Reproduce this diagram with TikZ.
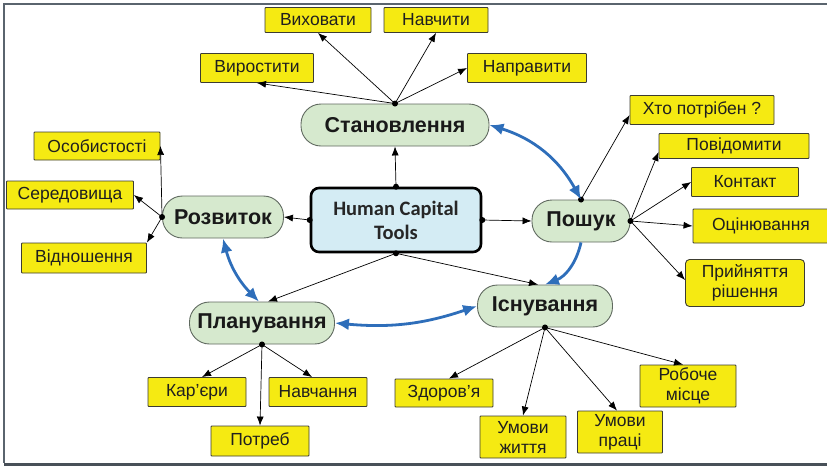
\documentclass[tikz,border=0pt]{standalone}
\usepackage{fontspec}
\setmainfont{Liberation Sans}
\newfontfamily\hctfont{Carlito}
\usetikzlibrary{arrows.meta}
\definecolor{yelfill}{RGB}{245,234,18}
\definecolor{yelbord}{RGB}{60,60,50}
\definecolor{grnfill}{RGB}{214,233,206}
\definecolor{grnbord}{RGB}{95,105,95}
\definecolor{hctfill}{RGB}{212,236,244}
\definecolor{bluarr}{RGB}{46,110,186}
\definecolor{framec}{RGB}{90,100,110}
\begin{document}
\begin{tikzpicture}[x=1pt,y=-1pt,
  yel/.style={draw=yelbord, fill=yelfill, line width=0.9pt, inner sep=0pt, rounded corners=0.8pt,
    font=\fontsize{17.5}{20}\selectfont, text=black!88, align=center},
  grn/.style={draw=grnbord, fill=grnfill, line width=0.9pt, inner sep=0pt, rounded corners=20pt,
    minimum height=42pt, font=\fontsize{21.5}{24}\selectfont\bfseries, text=black!90},
  conn/.style={-{Latex[length=9pt,width=7pt]}, line width=0.7pt, black},
  blu/.style={draw=bluarr, line width=2.8pt, {Latex[length=14pt,width=12pt]}-{Latex[length=14pt,width=12pt]}},
  blus/.style={draw=bluarr, line width=2.8pt, -{Latex[length=14pt,width=12pt]}}
]
\useasboundingbox (0,0) rectangle (827,467);
% frame
\draw[framec, line width=1.8pt] (830,4) -- (4,4) -- (4,463);
\draw[framec!80!black, line width=3pt] (4,464) -- (830,464);

% central
\node[draw=black, fill=hctfill, line width=2.6pt, rounded corners=8pt, minimum width=170pt, minimum height=64pt,
  inner sep=0pt, align=center, font=\hctfont\bfseries\fontsize{20.5}{24}\selectfont, text=black!85] (hct) at (396,220)
  {Human Capital\\Tools};

% green nodes
\node[grn, minimum width=188pt] (st) at (395,125) {Становлення};
\node[grn, minimum width=121pt] (rz) at (223,217) {Розвиток};
\node[grn, minimum width=98pt] (ps) at (581,221) {Пошук};
\node[grn, minimum width=145pt] (pl) at (262,323) {Планування};
\node[grn, minimum width=135pt] (is) at (545,306) {Існування};

% yellow boxes
\node[yel, minimum width=106pt, minimum height=25pt] (vyh) at (318,20) {Виховати};
\node[yel, minimum width=104pt, minimum height=25pt] (nav) at (436,20) {Навчити};
\node[yel, minimum width=113pt, minimum height=29pt] (vyr) at (257,68) {Виростити};
\node[yel, minimum width=119pt, minimum height=29pt] (nap) at (527,68) {Направити};
\node[yel, minimum width=126pt, minimum height=28pt] (os) at (97,146) {Особистості};
\node[yel, minimum width=127pt, minimum height=28pt] (ser) at (70,195) {Середовища};
\node[yel, minimum width=125pt, minimum height=30pt] (vid) at (84,258) {Відношення};
\node[yel, minimum width=144pt, minimum height=29pt] (kh) at (702,110) {Хто потрібен ?};
\node[yel, minimum width=150pt, minimum height=25pt] (pov) at (734,146) {Повідомити};
\node[yel, minimum width=107pt, minimum height=29pt] (kon) at (745,182) {Контакт};
\node[yel, minimum width=136pt, minimum height=34pt] (ots) at (761,226) {Оцінювання};
\node[yel, minimum width=119pt, minimum height=47pt, rounded corners=4pt] (pry) at (745,283) {Прийняття\\рішення};
\node[yel, minimum width=98pt, minimum height=29pt] (kar) at (197,392) {Кар’єри};
\node[yel, minimum width=98pt, minimum height=29pt] (nvch) at (318,392) {Навчання};
\node[yel, minimum width=98pt, minimum height=30pt] (pot) at (260,441) {Потреб};
\node[yel, minimum width=98pt, minimum height=28pt] (zd) at (444,393) {Здоров’я};
\node[yel, minimum width=86pt, minimum height=42pt] (uzh) at (523,437) {Умови\\життя};
\node[yel, minimum width=85pt, minimum height=42pt] (upr) at (620,432) {Умови\\праці};
\node[yel, minimum width=96pt, minimum height=42pt] (rob) at (688,386) {Робоче\\місце};

% black connectors
\draw[conn] (st.north) -- (vyh.south);
\draw[conn] (st.north) -- (nav.south);
\draw[conn] (st.north) -- (vyr.south);
\draw[conn] (st.north) -- (nap.west);
\draw[conn] (hct.north) -- (st.south);
\draw[conn] (hct.west) -- (rz.east);
\draw[conn] (hct.east) -- (ps.west);
\draw[conn] (hct.south) -- ([xshift=6pt]pl.north);
\draw[conn] (hct.south) -- ([xshift=-7pt]is.north);
\draw[conn] (rz.west) -- (os.east);
\draw[conn] (rz.west) -- (ser.east);
\draw[conn] (rz.west) -- (vid.north east);
\draw[conn] (ps.north) -- ([yshift=-5pt]kh.west);
\draw[conn] (ps.east) -- ([yshift=-6pt]pov.west);
\draw[conn] (ps.east) -- (kon.west);
\draw[conn] (ps.east) -- (ots.west);
\draw[conn] (ps.east) -- ([yshift=3pt]pry.west);
\draw[conn] (is.south) -- ([xshift=5pt]zd.north);
\draw[conn] (is.south) -- (uzh.north);
\draw[conn] (is.south) -- ([xshift=-3pt]upr.north);
\draw[conn] (is.south) -- ([xshift=-5pt]rob.north);
\draw[conn] (pl.south) -- ([xshift=5pt]kar.north);
\draw[conn] (pl.south) -- (pot.north);
\draw[conn] (pl.south) -- ([xshift=-6pt]nvch.north);

% dots
\foreach \p in {st.north, hct.north, hct.west, hct.east, hct.south, rz.west, ps.north, ps.east, is.south, pl.south}
  \fill (\p) circle (3pt);

% blue arrows
\draw[blu] (st.east) to[bend left=22] (ps.north);
\draw[blus] (ps.south) to[bend left=28] (is.north);
\draw[blu] (is.west) to[bend left=12] (pl.east);
\draw[blu] ([xshift=-3pt]pl.north) to[bend left=15] (rz.south);
\end{tikzpicture}
\end{document}
